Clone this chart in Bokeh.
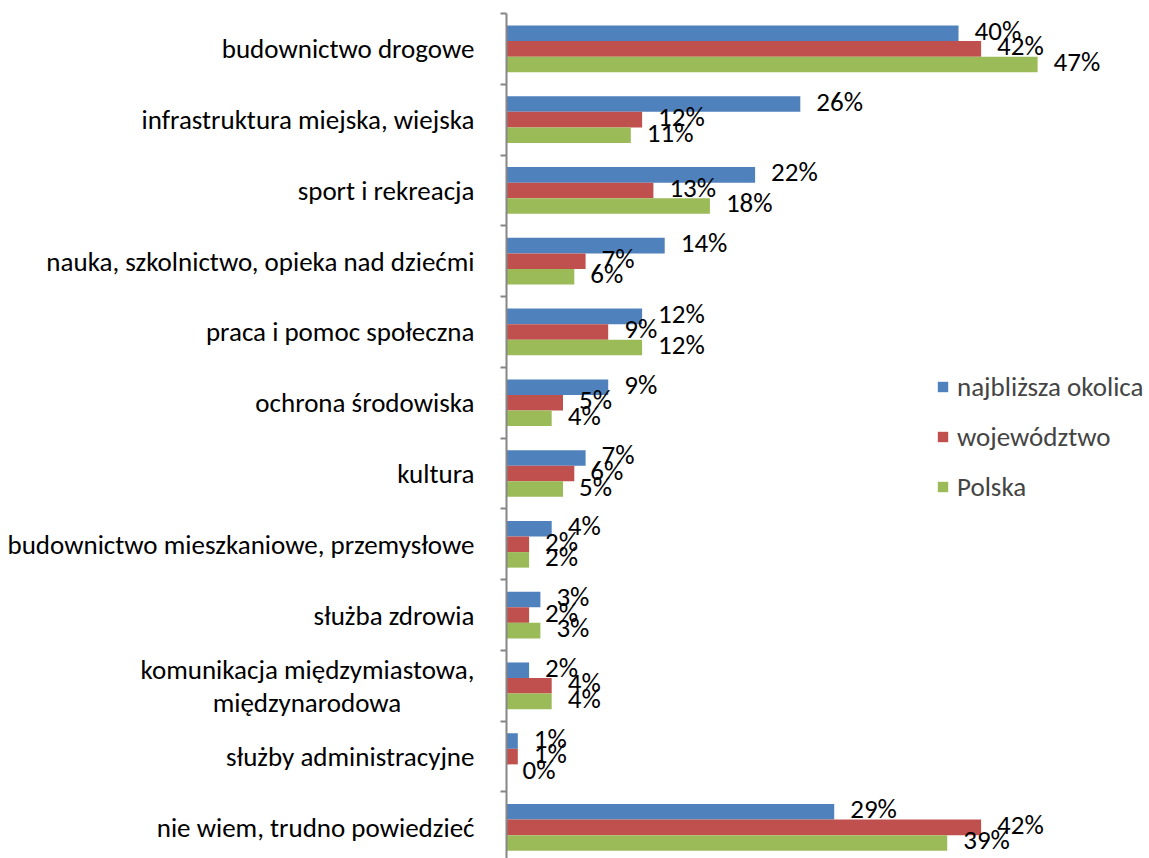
from bokeh.plotting import figure
from bokeh.models import Range1d, FixedTicker, ColumnDataSource, Legend, LegendItem
from bokeh.core.properties import value
from bokeh.embed import file_html
from bokeh.resources import INLINE

categories = [
    "budownictwo drogowe",
    "infrastruktura miejska, wiejska",
    "sport i rekreacja",
    "nauka, szkolnictwo, opieka nad dziećmi",
    "praca i pomoc społeczna",
    "ochrona środowiska",
    "kultura",
    "budownictwo mieszkaniowe, przemysłowe",
    "służba zdrowia",
    "komunikacja międzymiastowa,\nmiędzynarodowa",
    "służby administracyjne",
    "nie wiem, trudno powiedzieć",
]
series_names = ["najbliższa okolica", "województwo", "Polska"]
okolica = [40, 26, 22, 14, 12, 9, 7, 4, 3, 2, 1, 29]
wojewodztwo = [42, 12, 13, 7, 9, 5, 6, 2, 2, 4, 1, 42]
polska = [47, 11, 18, 6, 12, 4, 5, 2, 3, 4, 0, 39]
colors = ["#4F81BD", "#C0504D", "#9BBB59"]

FONT = "Carlito, Calibri, Lato"
FS = "27px"

p = figure(width=1149, height=858, output_backend="svg", toolbar_location=None,
           x_range=Range1d(0, 56.9), y_range=Range1d(11.44, -0.5),
           min_border_left=506, min_border_top=13, min_border_bottom=0, min_border_right=0)
p.outline_line_color = None
p.xgrid.visible = False
p.ygrid.visible = False
p.xaxis.visible = False


def centre_lines(label):
    # pad the shorter line with no-break spaces so the lines look centred
    lines = label.split("\n")
    if len(lines) == 1:
        return label
    return lines[0] + "\n" + lines[1] + "\u00a0" * 12


ax = p.yaxis[0]
ax.ticker = FixedTicker(ticks=list(range(len(categories))),
                        minor_ticks=[i - 0.5 for i in range(len(categories) + 1)])
ax.major_label_overrides = {i: centre_lines(c) for i, c in enumerate(categories)}
ax.major_tick_line_color = None
ax.major_tick_out = 0
ax.major_tick_in = 0
ax.minor_tick_out = 6
ax.minor_tick_in = 0
ax.minor_tick_line_color = "#868686"
ax.minor_tick_line_width = 2
ax.axis_line_color = "#868686"
ax.axis_line_width = 2
ax.major_label_standoff = 26
ax.major_label_text_font = FONT
ax.major_label_text_font_size = FS
ax.major_label_text_line_height = 1.0
ax.major_label_text_color = "black"

bh = 0.22
offsets = [-bh, 0.0, bh]
items = []
for vals, name, col, off in zip([okolica, wojewodztwo, polska], series_names, colors, offsets):
    src = ColumnDataSource(dict(
        y=[i + off for i in range(len(categories))],
        v=vals,
        t=[f"{v}%" for v in vals],
    ))
    r = p.hbar(y="y", right="v", left=0, height=bh, source=src, fill_color=col, line_color=None)
    p.text(x="v", y="y", text="t", source=src, x_offset=16, y_offset=-3,
           text_align="left", text_baseline="middle",
           text_font=value(FONT), text_font_size=FS, text_color="black")
    items.append(LegendItem(label=name, renderers=[r]))

legend = Legend(items=items, location=(430, 355), orientation="vertical",
                glyph_width=13, glyph_height=13, label_standoff=8,
                label_height=32, spacing=17, padding=0, margin=0,
                border_line_color=None, background_fill_alpha=0,
                label_text_font=FONT, label_text_font_size=FS)
p.add_layout(legend, "center")

open("out.html", "w").write(file_html(p, INLINE))
